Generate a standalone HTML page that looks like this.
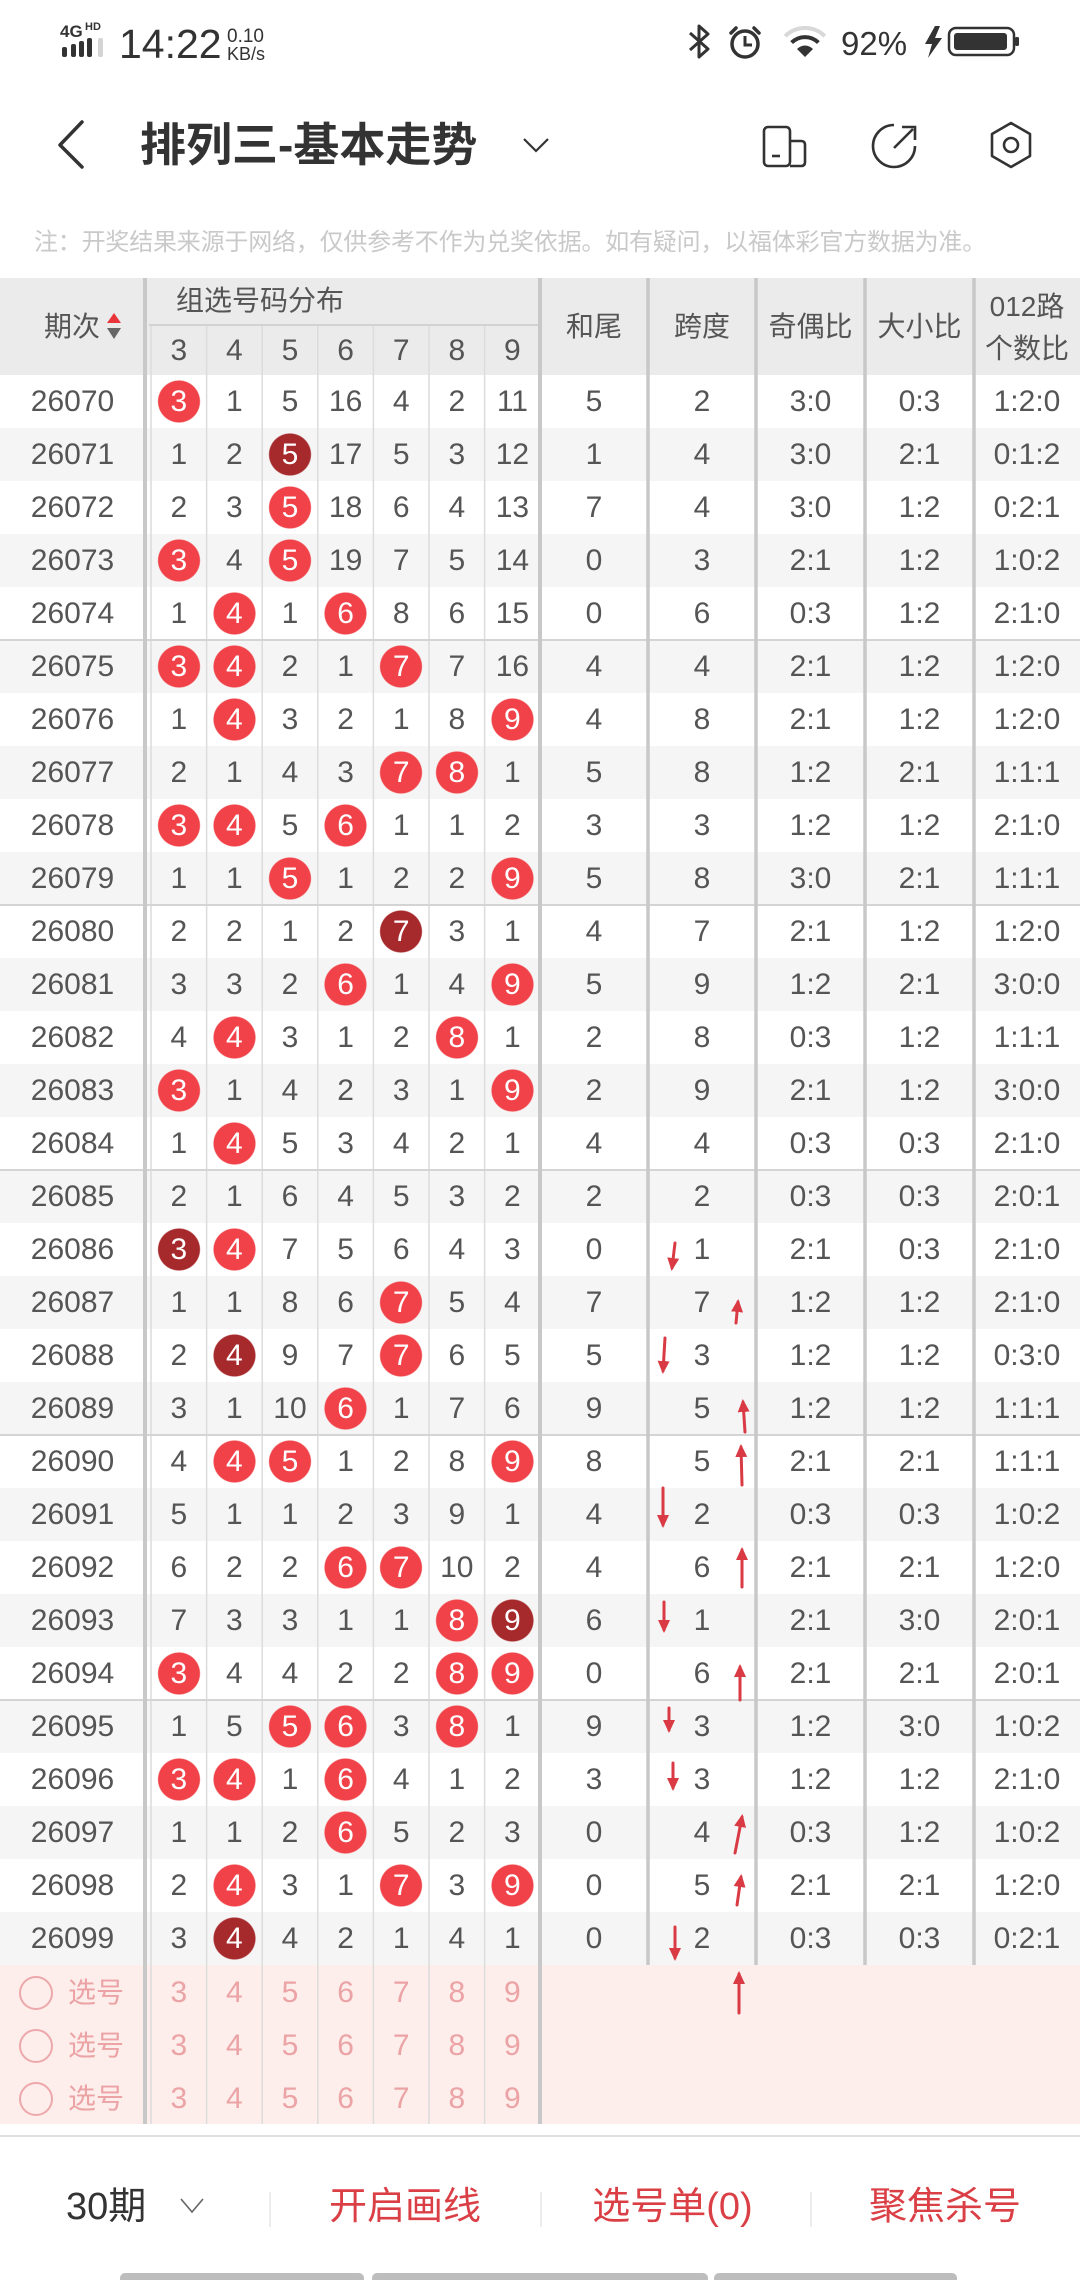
<!DOCTYPE html>
<html><head><meta charset="utf-8">
<style>
body{margin:0;padding:0;background:#fff}
#w{position:relative;width:1080px;height:2280px;overflow:hidden;background:#fff;font-family:"Liberation Sans","Noto Sans CJK SC",sans-serif;}
.t{position:absolute;white-space:nowrap}
.r{position:absolute;left:0;width:1080px;height:53px;line-height:53px;font-size:30px;color:#555}
.r.g{background:#f5f5f5}
.r>span{position:absolute;top:0;height:53px;text-align:center}
.p{left:0;width:145px}
.c0{left:151px;width:55.6px}.c1{left:206.6px;width:55.6px}.c2{left:262.2px;width:55.6px}.c3{left:317.8px;width:55.6px}.c4{left:373.4px;width:55.6px}.c5{left:429px;width:55.6px}.c6{left:484.6px;width:55.6px}
.h{left:541px;width:106px}.k{left:649px;width:106px}.o{left:757px;width:107px}.s{left:866px;width:107px}.z{left:975px;width:104px}
.b{color:#fff;background:radial-gradient(circle at 50% 50%,#f04248 20.5px,rgba(240,66,72,0) 21.5px)}
.d{color:#fff;background:radial-gradient(circle at 50% 50%,#a6292c 20.5px,rgba(166,41,44,0) 21.5px)}
.q{color:#eba3a6}
.q .cir{left:19px;top:10px;width:30px;height:30px;border:2px solid #eda8ab;border-radius:50%}
.q .xh{left:66px;width:60px;font-size:28px}
.hd{position:absolute;font-size:28px;color:#555;text-align:center;white-space:nowrap}
.bt{position:absolute;top:2180px;height:54px;line-height:54px;font-size:38px;color:#db3f46;text-align:center;white-space:nowrap}
</style></head><body><div id="w">

<!-- status bar + title -->
<svg class="t" style="left:0;top:0" width="1080" height="200" viewBox="0 0 1080 200">
<text x="60" y="37" font-family="Liberation Sans" font-weight="bold" font-size="17" fill="#333">4G</text>
<text x="85" y="30" font-family="Liberation Sans" font-weight="bold" font-size="11" fill="#333">HD</text>
<rect x="62" y="47" width="5" height="10" rx="2" fill="#333"/>
<rect x="71" y="44" width="5" height="13" rx="2" fill="#333"/>
<rect x="79" y="41" width="5" height="16" rx="2" fill="#333"/>
<rect x="87" y="38" width="5" height="19" rx="2" fill="#333"/>
<rect x="98" y="38" width="5" height="19" rx="2" fill="#d4d4d4"/>
<text x="119" y="58" font-family="Liberation Sans" font-size="41" fill="#333">14:22</text>
<text x="227" y="42" font-family="Liberation Sans" font-size="19" fill="#333">0.10</text>
<text x="227" y="60" font-family="Liberation Sans" font-size="18" fill="#333">KB/s</text>
<path d="M690,33 L708,49 L699,57 L699,26 L708,34 L690,50" fill="none" stroke="#333" stroke-width="3" stroke-linejoin="round"/>
<circle cx="745" cy="44" r="13" fill="none" stroke="#333" stroke-width="3.5"/>
<path d="M745,36 L745,45 L752,45" fill="none" stroke="#333" stroke-width="3"/>
<path d="M731,33 L736,28 M759,33 L754,28" stroke="#333" stroke-width="3.5" stroke-linecap="round"/>
<path d="M805,57 L797,49 A11,11 0 0 1 813,49 Z" fill="#333"/>
<path d="M791.6,42.6 A19,19 0 0 1 818.4,42.6" fill="none" stroke="#333" stroke-width="4"/>
<path d="M785.2,36.2 A28,28 0 0 1 824.8,36.2" fill="none" stroke="#d8d8d8" stroke-width="4"/>
<text x="841" y="55" font-family="Liberation Sans" font-size="33" fill="#333">92%</text>
<polygon points="935,26 925,44 932,44 928,58 942,38 935,38 940,26" fill="#333"/>
<rect x="949" y="28" width="65" height="27" rx="7" fill="none" stroke="#333" stroke-width="2.5"/>
<rect x="954" y="33" width="53" height="17" rx="3" fill="#333"/>
<rect x="1015" y="37" width="4" height="9" rx="1.5" fill="#333"/>
<polyline points="82,122 60,145 82,167" fill="none" stroke="#333" stroke-width="3.5" stroke-linejoin="round" stroke-linecap="round"/>
<polyline points="524,139 536,151 548,139" fill="none" stroke="#333" stroke-width="2.2"/>
<rect x="764" y="127" width="26" height="39" rx="4" fill="none" stroke="#333" stroke-width="2.6"/>
<path d="M790,141 L801,141 Q805,141 805,145 L805,162 Q805,166 801,166 L790,166" fill="none" stroke="#333" stroke-width="2.6"/>
<line x1="772" y1="156" x2="780" y2="156" stroke="#333" stroke-width="2.6"/>
<path d="M894,125 A21,21 0 1 0 915,146" fill="none" stroke="#333" stroke-width="2.6"/>
<line x1="894" y1="148" x2="913" y2="129" stroke="#333" stroke-width="2.6"/>
<polyline points="902,127 915,127 915,140" fill="none" stroke="#333" stroke-width="2.6"/>
<polygon points="1011,123 1030,134 1030,156 1011,167 992,156 992,134" fill="none" stroke="#333" stroke-width="2.6" stroke-linejoin="round"/>
<circle cx="1011" cy="145" r="7" fill="none" stroke="#333" stroke-width="2.6"/>
</svg>
<div class="t" style="left:140px;top:116px;font-size:46px;line-height:58px;font-weight:bold;color:#333">排列三-基本走势</div>
<div class="t" style="left:34px;top:228px;font-size:24px;line-height:30px;color:#c9c9c9;letter-spacing:-0.2px">注：开奖结果来源于网络，仅供参考不作为兑奖依据。如有疑问，以福体彩官方数据为准。</div>

<!-- header -->
<div class="t" style="left:0;top:278px;width:1080px;height:97px;background:#ebebeb"></div>
<div class="hd" style="left:44px;top:310px;line-height:34px">期次</div>
<svg class="t" style="left:105px;top:310px" width="18" height="32"><polygon points="2,13 9,3 16,13" fill="#e8353b"/><polygon points="2,18 9,29 16,18" fill="#666"/></svg>
<div class="hd" style="left:176px;top:284px;line-height:34px">组选号码分布</div>
<div class="r" style="top:325px;height:52px;line-height:52px;background:transparent"><span class="c0">3</span><span class="c1">4</span><span class="c2">5</span><span class="c3">6</span><span class="c4">7</span><span class="c5">8</span><span class="c6">9</span></div>
<div class="hd" style="left:541px;width:106px;top:310px;line-height:34px">和尾</div>
<div class="hd" style="left:649px;width:106px;top:310px;line-height:34px">跨度</div>
<div class="hd" style="left:757px;width:107px;top:310px;line-height:34px">奇偶比</div>
<div class="hd" style="left:866px;width:107px;top:310px;line-height:34px">大小比</div>
<div class="hd" style="left:975px;width:104px;top:290px;line-height:34px">012路</div>
<div class="hd" style="left:975px;width:104px;top:332px;line-height:34px">个数比</div>

<!-- rows -->
<div class="r" style="top:375px"><span class="p">26070</span><span class="c0 b">3</span><span class="c1">1</span><span class="c2">5</span><span class="c3">16</span><span class="c4">4</span><span class="c5">2</span><span class="c6">11</span><span class="h">5</span><span class="k">2</span><span class="o">3:0</span><span class="s">0:3</span><span class="z">1:2:0</span></div>
<div class="r g" style="top:428px"><span class="p">26071</span><span class="c0">1</span><span class="c1">2</span><span class="c2 d">5</span><span class="c3">17</span><span class="c4">5</span><span class="c5">3</span><span class="c6">12</span><span class="h">1</span><span class="k">4</span><span class="o">3:0</span><span class="s">2:1</span><span class="z">0:1:2</span></div>
<div class="r" style="top:481px"><span class="p">26072</span><span class="c0">2</span><span class="c1">3</span><span class="c2 b">5</span><span class="c3">18</span><span class="c4">6</span><span class="c5">4</span><span class="c6">13</span><span class="h">7</span><span class="k">4</span><span class="o">3:0</span><span class="s">1:2</span><span class="z">0:2:1</span></div>
<div class="r g" style="top:534px"><span class="p">26073</span><span class="c0 b">3</span><span class="c1">4</span><span class="c2 b">5</span><span class="c3">19</span><span class="c4">7</span><span class="c5">5</span><span class="c6">14</span><span class="h">0</span><span class="k">3</span><span class="o">2:1</span><span class="s">1:2</span><span class="z">1:0:2</span></div>
<div class="r" style="top:587px"><span class="p">26074</span><span class="c0">1</span><span class="c1 b">4</span><span class="c2">1</span><span class="c3 b">6</span><span class="c4">8</span><span class="c5">6</span><span class="c6">15</span><span class="h">0</span><span class="k">6</span><span class="o">0:3</span><span class="s">1:2</span><span class="z">2:1:0</span></div>
<div class="r g" style="top:640px"><span class="p">26075</span><span class="c0 b">3</span><span class="c1 b">4</span><span class="c2">2</span><span class="c3">1</span><span class="c4 b">7</span><span class="c5">7</span><span class="c6">16</span><span class="h">4</span><span class="k">4</span><span class="o">2:1</span><span class="s">1:2</span><span class="z">1:2:0</span></div>
<div class="r" style="top:693px"><span class="p">26076</span><span class="c0">1</span><span class="c1 b">4</span><span class="c2">3</span><span class="c3">2</span><span class="c4">1</span><span class="c5">8</span><span class="c6 b">9</span><span class="h">4</span><span class="k">8</span><span class="o">2:1</span><span class="s">1:2</span><span class="z">1:2:0</span></div>
<div class="r g" style="top:746px"><span class="p">26077</span><span class="c0">2</span><span class="c1">1</span><span class="c2">4</span><span class="c3">3</span><span class="c4 b">7</span><span class="c5 b">8</span><span class="c6">1</span><span class="h">5</span><span class="k">8</span><span class="o">1:2</span><span class="s">2:1</span><span class="z">1:1:1</span></div>
<div class="r" style="top:799px"><span class="p">26078</span><span class="c0 b">3</span><span class="c1 b">4</span><span class="c2">5</span><span class="c3 b">6</span><span class="c4">1</span><span class="c5">1</span><span class="c6">2</span><span class="h">3</span><span class="k">3</span><span class="o">1:2</span><span class="s">1:2</span><span class="z">2:1:0</span></div>
<div class="r g" style="top:852px"><span class="p">26079</span><span class="c0">1</span><span class="c1">1</span><span class="c2 b">5</span><span class="c3">1</span><span class="c4">2</span><span class="c5">2</span><span class="c6 b">9</span><span class="h">5</span><span class="k">8</span><span class="o">3:0</span><span class="s">2:1</span><span class="z">1:1:1</span></div>
<div class="r" style="top:905px"><span class="p">26080</span><span class="c0">2</span><span class="c1">2</span><span class="c2">1</span><span class="c3">2</span><span class="c4 d">7</span><span class="c5">3</span><span class="c6">1</span><span class="h">4</span><span class="k">7</span><span class="o">2:1</span><span class="s">1:2</span><span class="z">1:2:0</span></div>
<div class="r g" style="top:958px"><span class="p">26081</span><span class="c0">3</span><span class="c1">3</span><span class="c2">2</span><span class="c3 b">6</span><span class="c4">1</span><span class="c5">4</span><span class="c6 b">9</span><span class="h">5</span><span class="k">9</span><span class="o">1:2</span><span class="s">2:1</span><span class="z">3:0:0</span></div>
<div class="r" style="top:1011px"><span class="p">26082</span><span class="c0">4</span><span class="c1 b">4</span><span class="c2">3</span><span class="c3">1</span><span class="c4">2</span><span class="c5 b">8</span><span class="c6">1</span><span class="h">2</span><span class="k">8</span><span class="o">0:3</span><span class="s">1:2</span><span class="z">1:1:1</span></div>
<div class="r g" style="top:1064px"><span class="p">26083</span><span class="c0 b">3</span><span class="c1">1</span><span class="c2">4</span><span class="c3">2</span><span class="c4">3</span><span class="c5">1</span><span class="c6 b">9</span><span class="h">2</span><span class="k">9</span><span class="o">2:1</span><span class="s">1:2</span><span class="z">3:0:0</span></div>
<div class="r" style="top:1117px"><span class="p">26084</span><span class="c0">1</span><span class="c1 b">4</span><span class="c2">5</span><span class="c3">3</span><span class="c4">4</span><span class="c5">2</span><span class="c6">1</span><span class="h">4</span><span class="k">4</span><span class="o">0:3</span><span class="s">0:3</span><span class="z">2:1:0</span></div>
<div class="r g" style="top:1170px"><span class="p">26085</span><span class="c0">2</span><span class="c1">1</span><span class="c2">6</span><span class="c3">4</span><span class="c4">5</span><span class="c5">3</span><span class="c6">2</span><span class="h">2</span><span class="k">2</span><span class="o">0:3</span><span class="s">0:3</span><span class="z">2:0:1</span></div>
<div class="r" style="top:1223px"><span class="p">26086</span><span class="c0 d">3</span><span class="c1 b">4</span><span class="c2">7</span><span class="c3">5</span><span class="c4">6</span><span class="c5">4</span><span class="c6">3</span><span class="h">0</span><span class="k">1</span><span class="o">2:1</span><span class="s">0:3</span><span class="z">2:1:0</span></div>
<div class="r g" style="top:1276px"><span class="p">26087</span><span class="c0">1</span><span class="c1">1</span><span class="c2">8</span><span class="c3">6</span><span class="c4 b">7</span><span class="c5">5</span><span class="c6">4</span><span class="h">7</span><span class="k">7</span><span class="o">1:2</span><span class="s">1:2</span><span class="z">2:1:0</span></div>
<div class="r" style="top:1329px"><span class="p">26088</span><span class="c0">2</span><span class="c1 d">4</span><span class="c2">9</span><span class="c3">7</span><span class="c4 b">7</span><span class="c5">6</span><span class="c6">5</span><span class="h">5</span><span class="k">3</span><span class="o">1:2</span><span class="s">1:2</span><span class="z">0:3:0</span></div>
<div class="r g" style="top:1382px"><span class="p">26089</span><span class="c0">3</span><span class="c1">1</span><span class="c2">10</span><span class="c3 b">6</span><span class="c4">1</span><span class="c5">7</span><span class="c6">6</span><span class="h">9</span><span class="k">5</span><span class="o">1:2</span><span class="s">1:2</span><span class="z">1:1:1</span></div>
<div class="r" style="top:1435px"><span class="p">26090</span><span class="c0">4</span><span class="c1 b">4</span><span class="c2 b">5</span><span class="c3">1</span><span class="c4">2</span><span class="c5">8</span><span class="c6 b">9</span><span class="h">8</span><span class="k">5</span><span class="o">2:1</span><span class="s">2:1</span><span class="z">1:1:1</span></div>
<div class="r g" style="top:1488px"><span class="p">26091</span><span class="c0">5</span><span class="c1">1</span><span class="c2">1</span><span class="c3">2</span><span class="c4">3</span><span class="c5">9</span><span class="c6">1</span><span class="h">4</span><span class="k">2</span><span class="o">0:3</span><span class="s">0:3</span><span class="z">1:0:2</span></div>
<div class="r" style="top:1541px"><span class="p">26092</span><span class="c0">6</span><span class="c1">2</span><span class="c2">2</span><span class="c3 b">6</span><span class="c4 b">7</span><span class="c5">10</span><span class="c6">2</span><span class="h">4</span><span class="k">6</span><span class="o">2:1</span><span class="s">2:1</span><span class="z">1:2:0</span></div>
<div class="r g" style="top:1594px"><span class="p">26093</span><span class="c0">7</span><span class="c1">3</span><span class="c2">3</span><span class="c3">1</span><span class="c4">1</span><span class="c5 b">8</span><span class="c6 d">9</span><span class="h">6</span><span class="k">1</span><span class="o">2:1</span><span class="s">3:0</span><span class="z">2:0:1</span></div>
<div class="r" style="top:1647px"><span class="p">26094</span><span class="c0 b">3</span><span class="c1">4</span><span class="c2">4</span><span class="c3">2</span><span class="c4">2</span><span class="c5 b">8</span><span class="c6 b">9</span><span class="h">0</span><span class="k">6</span><span class="o">2:1</span><span class="s">2:1</span><span class="z">2:0:1</span></div>
<div class="r g" style="top:1700px"><span class="p">26095</span><span class="c0">1</span><span class="c1">5</span><span class="c2 b">5</span><span class="c3 b">6</span><span class="c4">3</span><span class="c5 b">8</span><span class="c6">1</span><span class="h">9</span><span class="k">3</span><span class="o">1:2</span><span class="s">3:0</span><span class="z">1:0:2</span></div>
<div class="r" style="top:1753px"><span class="p">26096</span><span class="c0 b">3</span><span class="c1 b">4</span><span class="c2">1</span><span class="c3 b">6</span><span class="c4">4</span><span class="c5">1</span><span class="c6">2</span><span class="h">3</span><span class="k">3</span><span class="o">1:2</span><span class="s">1:2</span><span class="z">2:1:0</span></div>
<div class="r g" style="top:1806px"><span class="p">26097</span><span class="c0">1</span><span class="c1">1</span><span class="c2">2</span><span class="c3 b">6</span><span class="c4">5</span><span class="c5">2</span><span class="c6">3</span><span class="h">0</span><span class="k">4</span><span class="o">0:3</span><span class="s">1:2</span><span class="z">1:0:2</span></div>
<div class="r" style="top:1859px"><span class="p">26098</span><span class="c0">2</span><span class="c1 b">4</span><span class="c2">3</span><span class="c3">1</span><span class="c4 b">7</span><span class="c5">3</span><span class="c6 b">9</span><span class="h">0</span><span class="k">5</span><span class="o">2:1</span><span class="s">2:1</span><span class="z">1:2:0</span></div>
<div class="r g" style="top:1912px"><span class="p">26099</span><span class="c0">3</span><span class="c1 d">4</span><span class="c2">4</span><span class="c3">2</span><span class="c4">1</span><span class="c5">4</span><span class="c6">1</span><span class="h">0</span><span class="k">2</span><span class="o">0:3</span><span class="s">0:3</span><span class="z">0:2:1</span></div>

<!-- selection rows -->
<div class="t" style="left:0;top:1965px;width:1080px;height:159px;background:#fdeeeb"></div>
<div class="r q" style="top:1966px"><span class="cir"></span><span class="xh">选号</span><span class="c0">3</span><span class="c1">4</span><span class="c2">5</span><span class="c3">6</span><span class="c4">7</span><span class="c5">8</span><span class="c6">9</span></div>
<div class="r q" style="top:2019px"><span class="cir"></span><span class="xh">选号</span><span class="c0">3</span><span class="c1">4</span><span class="c2">5</span><span class="c3">6</span><span class="c4">7</span><span class="c5">8</span><span class="c6">9</span></div>
<div class="r q" style="top:2072px"><span class="cir"></span><span class="xh">选号</span><span class="c0">3</span><span class="c1">4</span><span class="c2">5</span><span class="c3">6</span><span class="c4">7</span><span class="c5">8</span><span class="c6">9</span></div>

<!-- grid lines and arrows -->
<svg class="t" style="left:0;top:0" width="1080" height="2280" viewBox="0 0 1080 2280">
<defs><marker id="ah" markerWidth="14" markerHeight="12" refX="10" refY="6" orient="auto" markerUnits="userSpaceOnUse"><path d="M0,0 L13,6 L0,12 z" fill="#d93a44"/></marker></defs>
<g stroke="#dcdcdc" stroke-width="1.5">
<line x1="151" y1="325" x2="151" y2="2124"/>
<line x1="206.6" y1="325" x2="206.6" y2="2124"/>
<line x1="262.2" y1="325" x2="262.2" y2="2124"/>
<line x1="317.8" y1="325" x2="317.8" y2="2124"/>
<line x1="373.4" y1="325" x2="373.4" y2="2124"/>
<line x1="429" y1="325" x2="429" y2="2124"/>
<line x1="484.6" y1="325" x2="484.6" y2="2124"/>
</g>
<line x1="149" y1="325" x2="539" y2="325" stroke="#d2d2d2" stroke-width="2"/>
<g stroke="#d4d4d4" stroke-width="2">
<line x1="0" y1="640" x2="1080" y2="640"/>
<line x1="0" y1="905" x2="1080" y2="905"/>
<line x1="0" y1="1170" x2="1080" y2="1170"/>
<line x1="0" y1="1435" x2="1080" y2="1435"/>
<line x1="0" y1="1700" x2="1080" y2="1700"/>
</g>
<g stroke="#c8c8c8" stroke-width="4">
<line x1="145" y1="278" x2="145" y2="2124"/>
<line x1="540" y1="278" x2="540" y2="2124"/>
</g>
<g stroke="#c8c8c8" stroke-width="3.5">
<line x1="648" y1="278" x2="648" y2="1965"/>
<line x1="756" y1="278" x2="756" y2="1965"/>
<line x1="865" y1="278" x2="865" y2="1965"/>
<line x1="974" y1="278" x2="974" y2="1965"/>
</g>
<g stroke="#d93a44" stroke-width="3" marker-end="url(#ah)" stroke-linecap="round">
<line x1="675" y1="1243" x2="672" y2="1268"/>
<line x1="736" y1="1323" x2="738" y2="1302"/>
<line x1="665" y1="1338" x2="663" y2="1371"/>
<line x1="745" y1="1432" x2="743" y2="1402"/>
<line x1="742" y1="1485" x2="741" y2="1447"/>
<line x1="663" y1="1488" x2="663" y2="1525"/>
<line x1="742" y1="1587" x2="742" y2="1550"/>
<line x1="664" y1="1602" x2="664" y2="1630"/>
<line x1="740" y1="1700" x2="740" y2="1667"/>
<line x1="669" y1="1708" x2="669" y2="1730"/>
<line x1="673" y1="1763" x2="673" y2="1788"/>
<line x1="735" y1="1853" x2="742" y2="1817"/>
<line x1="737" y1="1905" x2="741" y2="1877"/>
<line x1="675" y1="1927" x2="675" y2="1958"/>
<line x1="739" y1="2013" x2="739" y2="1974"/>
</g>
<line x1="0" y1="2136" x2="1080" y2="2136" stroke="#e0e0e0" stroke-width="2"/>
<g stroke="#e6e6e6" stroke-width="1.5">
<line x1="270" y1="2192" x2="270" y2="2227"/>
<line x1="541" y1="2192" x2="541" y2="2227"/>
<line x1="811" y1="2192" x2="811" y2="2227"/>
</g>
<polyline points="181,2199 192,2212 203,2199" fill="none" stroke="#666" stroke-width="1.6"/>
<rect x="120" y="2273" width="244" height="12" rx="5" fill="#bdbdbd"/>
<rect x="372" y="2273" width="336" height="12" rx="5" fill="#bdbdbd"/>
<rect x="714" y="2273" width="243" height="12" rx="5" fill="#bdbdbd"/>
</svg>

<!-- bottom bar -->
<div class="t" style="left:66px;top:2180px;line-height:54px;font-size:38px;color:#333">30期</div>
<div class="bt" style="left:300px;width:210px">开启画线</div>
<div class="bt" style="left:570px;width:205px">选号单(0)</div>
<div class="bt" style="left:840px;width:210px">聚焦杀号</div>

</div></body></html>
